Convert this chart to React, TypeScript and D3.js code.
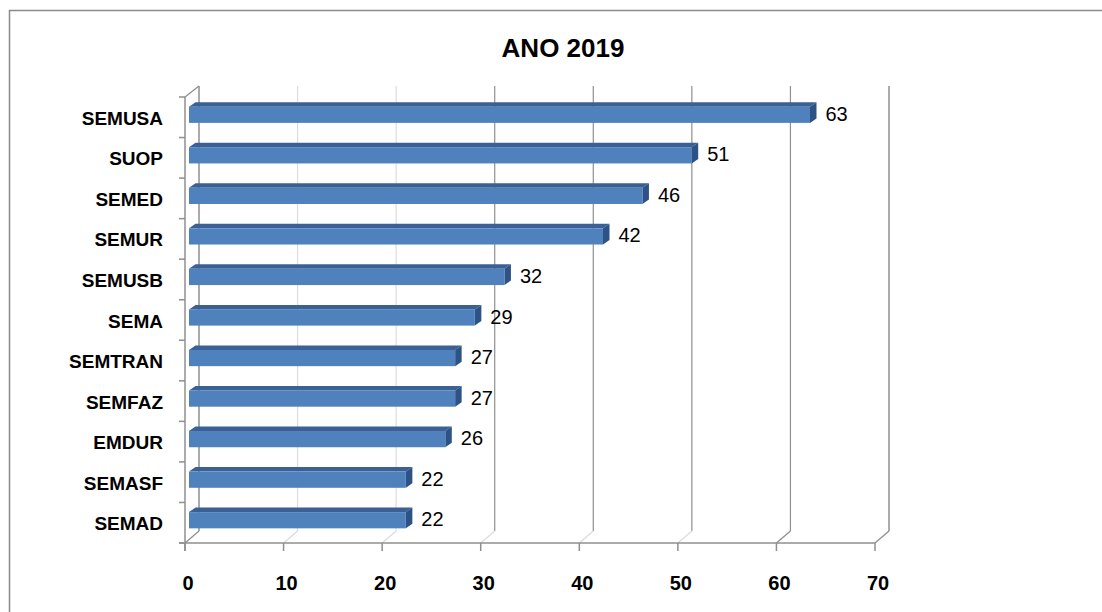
import * as d3 from "d3";

const categories = ["SEMUSA", "SUOP", "SEMED", "SEMUR", "SEMUSB", "SEMA", "SEMTRAN", "SEMFAZ", "EMDUR", "SEMASF", "SEMAD"];
const values = [63, 51, 46, 42, 32, 29, 27, 27, 26, 22, 22];
const ticks = [0, 10, 20, 30, 40, 50, 60, 70];
const title = "ANO 2019";

const W = 1102;
const H = 612;
const font = "'Liberation Sans', Arial, sans-serif";

// front plane of the 3D box, back plane is shifted by (dx, dy)
const x = d3.scaleLinear().domain([0, 70]).range([185, 875]);
const y = d3.scaleBand<string>().domain(categories).range([97, 543]).padding(0);
const dx = 14;
const dy = -12;

// bar faces: front face offset and depth
const barOff = { x: 4, y: -2.5 };
const barDepth = { x: 6.5, y: -4.5 };

export default function App() {
  const bw = y.bandwidth();
  const faceH = bw / 2.5;
  const grid = "#8f8f8f";

  return (
    <div style={{ position: "fixed", left: 0, top: 0 }}>
      <svg width={W} height={H} style={{ display: "block", background: "#fff" }}>
        {/* chart border */}
        <rect x={9.5} y={10.5} width={W + 20} height={H + 20} fill="none" stroke="#8a8a8a" strokeWidth={1.5} />

        <text x={563} y={57} textAnchor="middle" fontFamily={font} fontWeight="bold" fontSize={26}>
          {title}
        </text>

        {/* back wall gridlines */}
        {ticks.map((t) => (
          <line
            key={"g" + t}
            x1={x(t) + dx}
            x2={x(t) + dx}
            y1={86}
            y2={543 + dy}
            stroke={t === 10 || t === 20 ? "#dcdcdc" : grid}
            strokeWidth={t === 0 || t === 70 ? 1.5 : 1.2}
          />
        ))}
        {/* floor diagonals */}
        {ticks.map((t) => (
          <line
            key={"f" + t}
            x1={x(t)}
            y1={543}
            x2={x(t) + dx}
            y2={543 + dy}
            stroke={t === 0 || t === 60 || t === 70 ? grid : "#dcdcdc"}
            strokeWidth={1.3}
          />
        ))}
        {/* side wall top edge */}
        <line x1={185} y1={97} x2={185 + dx} y2={86} stroke={grid} strokeWidth={1.3} />

        {/* bars */}
        {categories.map((c, i) => {
          const top = (y(c) ?? 0) + (bw - faceH) / 2 + barOff.y;
          const x0 = x(0) + barOff.x;
          const x1 = x(values[i]) + barOff.x;
          const b = top + faceH;
          return (
            <g key={c}>
              <path
                d={`M${x0},${top}L${x0 + barDepth.x},${top + barDepth.y}L${x1 + barDepth.x},${top + barDepth.y}L${x1},${top}Z`}
                fill="#3a6096"
              />
              <path
                d={`M${x1},${top}L${x1 + barDepth.x},${top + barDepth.y}L${x1 + barDepth.x},${b + barDepth.y}L${x1},${b}Z`}
                fill="#2d5285"
              />
              <rect x={x0} y={top} width={x1 - x0} height={faceH} fill="#4f81bd" />
              <text
                x={x1 + barDepth.x + 9}
                y={top + faceH / 2 - 1}
                dominantBaseline="central"
                fontFamily={font}
                fontSize={20}
                fill="#000"
              >
                {values[i]}
              </text>
              <text
                x={163}
                y={(y(c) ?? 0) + bw / 2 + 1}
                textAnchor="end"
                dominantBaseline="central"
                fontFamily={font}
                fontWeight="bold"
                fontSize={19}
              >
                {c}
              </text>
            </g>
          );
        })}

        {/* front left axis with ticks */}
        <line x1={185} x2={185} y1={97} y2={551} stroke={grid} strokeWidth={1.5} />
        {categories.concat([""]).map((c, i) => (
          <line key={"lt" + i} x1={179} x2={185} y1={97 + i * bw} y2={97 + i * bw} stroke={grid} strokeWidth={1.5} />
        ))}

        {/* front bottom axis */}
        <line x1={179} x2={x(70)} y1={543} y2={543} stroke={grid} strokeWidth={1.5} />
        {ticks.map((t) => (
          <g key={"t" + t}>
            <line x1={x(t)} x2={x(t)} y1={543} y2={551} stroke={grid} strokeWidth={1.5} />
            <text x={x(t) + 3} y={590} textAnchor="middle" fontFamily={font} fontWeight="bold" fontSize={20}>
              {t}
            </text>
          </g>
        ))}
      </svg>
    </div>
  );
}
